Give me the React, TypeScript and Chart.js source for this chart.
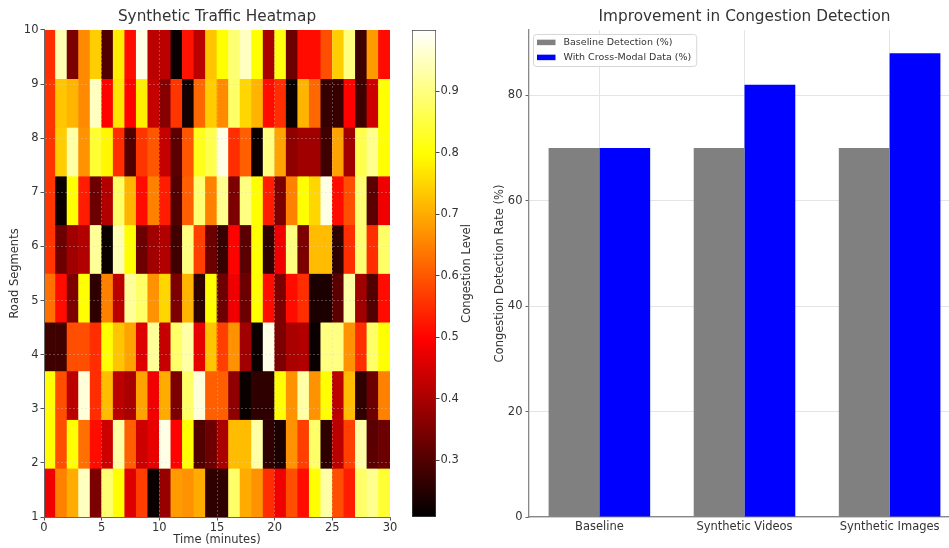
import React, { useEffect, useRef } from 'react';
import { Chart, registerables } from 'chart.js';

Chart.register(...registerables);

// ---------------- data ----------------
// Heatmap: rows listed from the top band (road segment ~10) down to the bottom band (~1),
// 30 one-minute columns per row.
const congestionRows: number[][] = [
  [0.55, 0.94, 0.35, 0.66, 0.74, 0.30, 0.78, 0.51, 0.98, 0.42, 0.42, 0.22, 0.52, 0.42, 0.73, 0.80, 0.89, 0.95, 0.80, 0.40, 0.81, 0.33, 0.51, 0.51, 0.59, 0.74, 0.90, 0.28, 0.68, 0.51],
  [0.56, 0.73, 0.71, 0.66, 0.95, 0.50, 0.77, 0.50, 0.78, 0.43, 0.36, 0.56, 0.23, 0.62, 0.74, 0.66, 0.88, 0.75, 0.71, 0.51, 0.55, 0.22, 0.71, 0.62, 0.27, 0.27, 0.50, 0.28, 0.44, 0.80],
  [0.56, 0.74, 0.93, 0.67, 0.84, 0.79, 0.55, 0.30, 0.56, 0.60, 0.43, 0.31, 0.60, 0.82, 0.86, 0.98, 0.55, 0.61, 0.22, 0.90, 0.69, 0.37, 0.39, 0.39, 0.28, 0.69, 0.39, 0.86, 0.91, 0.80],
  [0.56, 0.22, 0.80, 0.53, 0.33, 0.41, 0.88, 0.71, 0.51, 0.65, 0.53, 0.30, 0.61, 0.89, 0.65, 0.91, 0.35, 0.90, 0.80, 0.53, 0.35, 0.65, 0.80, 0.75, 0.98, 0.51, 0.59, 0.89, 0.31, 0.48],
  [0.56, 0.33, 0.39, 0.41, 0.92, 0.22, 0.94, 0.80, 0.33, 0.39, 0.41, 0.28, 0.90, 0.57, 0.33, 0.27, 0.50, 0.31, 0.80, 0.26, 0.48, 0.90, 0.35, 0.72, 0.72, 0.26, 0.55, 0.89, 0.55, 0.88],
  [0.63, 0.51, 0.35, 0.80, 0.26, 0.65, 0.42, 0.92, 0.88, 0.67, 0.75, 0.35, 0.71, 0.26, 0.80, 0.33, 0.48, 0.33, 0.80, 0.51, 0.35, 0.51, 0.55, 0.24, 0.24, 0.31, 0.93, 0.39, 0.30, 0.51],
  [0.28, 0.28, 0.59, 0.59, 0.55, 0.80, 0.73, 0.69, 0.46, 0.92, 0.43, 0.88, 0.93, 0.47, 0.73, 0.57, 0.67, 0.39, 0.22, 0.98, 0.35, 0.40, 0.41, 0.22, 0.90, 0.90, 0.67, 0.55, 0.88, 0.80],
  [0.80, 0.59, 0.42, 0.97, 0.55, 0.72, 0.42, 0.40, 0.69, 0.48, 0.70, 0.35, 0.88, 0.97, 0.61, 0.61, 0.37, 0.22, 0.26, 0.26, 0.80, 0.67, 0.93, 0.67, 0.80, 0.42, 0.72, 0.26, 0.33, 0.65],
  [0.80, 0.59, 0.80, 0.63, 0.51, 0.44, 0.93, 0.61, 0.44, 0.47, 0.98, 0.50, 0.80, 0.30, 0.33, 0.40, 0.72, 0.72, 0.93, 0.26, 0.24, 0.67, 0.57, 0.88, 0.26, 0.42, 0.57, 0.93, 0.31, 0.33],
  [0.48, 0.65, 0.70, 0.95, 0.35, 0.89, 0.80, 0.46, 0.57, 0.22, 0.38, 0.68, 0.67, 0.70, 0.26, 0.26, 0.88, 0.70, 0.67, 0.55, 0.48, 0.59, 0.51, 0.80, 0.93, 0.59, 0.53, 0.88, 0.91, 0.84],
];
const timeTicks = [0, 5, 10, 15, 20, 25, 30];
const segmentTicks = [1, 2, 3, 4, 5, 6, 7, 8, 9, 10];
const colorRange = [0.208, 1.0];
const colorbarTicks = [0.3, 0.4, 0.5, 0.6, 0.7, 0.8, 0.9];

const categories = ['Baseline', 'Synthetic Videos', 'Synthetic Images'];
const baselineRates = [70, 70, 70];
const crossModalRates = [70, 82, 88];
const rateTicks = [0, 20, 40, 60, 80];

// ---------------- styling helpers ----------------
const FONT = '"DejaVu Sans", "Liberation Sans", sans-serif';
const TEXT = '#333333';
const TICK_SIZE = 11.5;
const LABEL_SIZE = 11.5;
const TITLE_SIZE = 15.3;
Chart.defaults.font.family = FONT;
Chart.defaults.color = TEXT;

// matplotlib "hot" colormap (piecewise linear)
const HOT_STOPS: [number, number, number, number][] = [
  [0, 0, 0, 0],
  [0.365079, 255, 0, 0],
  [0.746032, 255, 255, 0],
  [1, 255, 255, 255],
];
function hotColor(v: number): string {
  const t = Math.min(1, Math.max(0, (v - colorRange[0]) / (colorRange[1] - colorRange[0])));
  for (let i = 1; i < HOT_STOPS.length; i++) {
    const a = HOT_STOPS[i - 1];
    const b = HOT_STOPS[i];
    if (t <= b[0]) {
      const f = (t - a[0]) / (b[0] - a[0]);
      const r = Math.round(a[1] + (b[1] - a[1]) * f);
      const g = Math.round(a[2] + (b[2] - a[2]) * f);
      const bl = Math.round(a[3] + (b[3] - a[3]) * f);
      return `rgb(${r},${g},${bl})`;
    }
  }
  return 'rgb(255,255,255)';
}

const setTicks = (values: number[]) => (axis: any) => {
  axis.ticks = values.map((value) => ({ value }));
};

const titlePadding = { top: 8.3, bottom: 3.3 };

// ---------------- heatmap ----------------
function HeatmapChart() {
  const ref = useRef<HTMLCanvasElement>(null);
  useEffect(() => {
    const yTop = segmentTicks[segmentTicks.length - 1];
    const yBottom = segmentTicks[0];
    const rowH = (yTop - yBottom) / congestionRows.length;
    const datasets = congestionRows.map((row, r) => ({
      label: `band ${r}`,
      data: row.map((_v, c) => ({ x: c + 0.5, y: [yTop - (r + 1) * rowH, yTop - r * rowH] })),
      backgroundColor: row.map(hotColor),
      borderWidth: 0,
      grouped: false,
      barPercentage: 1,
      categoryPercentage: 1,
    }));
    const gridColor = (edges: number[]) => (ctx: any) =>
      ctx.tick && edges.includes(ctx.tick.value) ? 'rgba(0,0,0,0)' : 'rgba(215,215,215,0.42)';
    const chart = new Chart(ref.current!, {
      type: 'bar',
      data: { datasets: datasets as any },
      options: {
        animation: false,
        responsive: false,
        layout: { padding: { right: 10 } },
        plugins: {
          legend: { display: false },
          tooltip: { enabled: false },
          title: {
            display: true,
            text: 'Synthetic Traffic Heatmap',
            fullSize: false,
            color: TEXT,
            font: { size: TITLE_SIZE, weight: 'normal' },
            padding: titlePadding,
          },
        },
        scales: {
          x: {
            type: 'linear',
            min: timeTicks[0],
            max: timeTicks[timeTicks.length - 1],
            offset: false,
            afterBuildTicks: setTicks(timeTicks),
            afterFit: (s: any) => {
              s.height = 31;
              s.paddingLeft = 0;
              s.paddingRight = 0;
            },
            ticks: { color: TEXT, font: { size: TICK_SIZE }, padding: 1, maxRotation: 0, autoSkip: false },
            grid: {
              z: 1,
              offset: false,
              color: gridColor([0, 30]),
              lineWidth: 0.8,
              drawTicks: true,
              tickLength: 3.5,
              tickColor: '#555',
              tickWidth: 1,
            },
            border: { z: 1, display: true, color: '#666', width: 1, dash: [2, 2] },
            title: { display: true, text: 'Time (minutes)', color: TEXT, font: { size: LABEL_SIZE }, padding: { top: 0, bottom: 0.6 } },
          },
          y: {
            type: 'linear',
            min: yBottom,
            max: yTop,
            afterBuildTicks: setTicks(segmentTicks),
            afterFit: (s: any) => {
              s.width = 44;
            },
            ticks: { color: TEXT, font: { size: TICK_SIZE }, padding: 2, autoSkip: false },
            grid: {
              z: 1,
              color: gridColor([1, 10]),
              lineWidth: 0.8,
              drawTicks: true,
              tickLength: 3.5,
              tickColor: '#555',
              tickWidth: 1,
            },
            border: { z: 1, display: true, color: '#666', width: 1, dash: [2, 2] },
            title: { display: true, text: 'Road Segments', color: TEXT, font: { size: LABEL_SIZE }, padding: { top: 8.1, bottom: 0 } },
          },
        },
      } as any,
    });
    return () => chart.destroy();
  }, []);
  return <canvas ref={ref} width={400} height={548} />;
}

// ---------------- colorbar ----------------
const colorbarTitle = 'Congestion Level';
const colorbarLabelPlugin = {
  id: 'colorbarLabel',
  afterDraw(chart: any) {
    const { ctx, chartArea } = chart;
    ctx.save();
    ctx.translate(chartArea.right + 31, (chartArea.top + chartArea.bottom) / 2);
    ctx.rotate(-Math.PI / 2);
    ctx.textAlign = 'center';
    ctx.textBaseline = 'middle';
    ctx.font = `${LABEL_SIZE}px ${FONT}`;
    ctx.fillStyle = TEXT;
    ctx.fillText(colorbarTitle, 0, 0);
    ctx.restore();
  },
};

function ColorbarChart() {
  const ref = useRef<HTMLCanvasElement>(null);
  useEffect(() => {
    const chart = new Chart(ref.current!, {
      type: 'bar',
      data: {
        labels: ['level'],
        datasets: [
          {
            data: [[colorRange[0], colorRange[1]]] as any,
            backgroundColor: (ctx: any) => {
              const area = ctx.chart.chartArea;
              if (!area) return '#000';
              const g = ctx.chart.ctx.createLinearGradient(0, area.bottom, 0, area.top);
              HOT_STOPS.forEach((s) => g.addColorStop(s[0], `rgb(${s[1]},${s[2]},${s[3]})`));
              return g;
            },
            borderColor: '#444',
            borderWidth: 1,
            borderSkipped: false,
            barPercentage: 1,
            categoryPercentage: 1,
          },
        ],
      },
      options: {
        animation: false,
        responsive: false,
        layout: { padding: { top: 30, bottom: 31, left: 0, right: 0 } },
        plugins: { legend: { display: false }, tooltip: { enabled: false } },
        scales: {
          x: { display: false },
          y: {
            position: 'right',
            min: colorRange[0],
            max: colorRange[1],
            afterBuildTicks: setTicks(colorbarTicks),
            afterFit: (s: any) => {
              s.width = 44;
              s.paddingTop = 0;
              s.paddingBottom = 0;
            },
            ticks: { color: TEXT, font: { size: TICK_SIZE }, padding: 1, callback: (v: any) => Number(v).toFixed(1) },
            grid: { drawOnChartArea: false, drawTicks: true, tickLength: 3.5, tickColor: '#444', color: '#444' },
            border: { display: false },
          },
        },
      } as any,
      plugins: [colorbarLabelPlugin],
    });
    return () => chart.destroy();
  }, []);
  return <canvas ref={ref} width={68} height={548} />;
}

// ---------------- bar chart ----------------
const insideLegendPlugin = {
  id: 'insideLegend',
  afterDatasetsDraw(chart: any) {
    const { ctx, chartArea } = chart;
    const items = chart.data.datasets.map((d: any) => ({ label: d.label, color: d.backgroundColor }));
    ctx.save();
    ctx.font = `9.5px ${FONT}`;
    const textW = Math.max(...items.map((i: any) => ctx.measureText(i.label).width));
    const x = chartArea.left + 4;
    const y = chartArea.top + 4;
    const swW = 18.5;
    const swH = 5.5;
    const rowH = 15;
    const w = 4 + swW + 8 + textW + 5;
    const h = 32;
    ctx.beginPath();
    (ctx as any).roundRect(x + 0.5, y + 0.5, w, h, 3);
    ctx.fillStyle = 'rgba(255,255,255,0.8)';
    ctx.fill();
    ctx.strokeStyle = '#d6d6d6';
    ctx.lineWidth = 1;
    ctx.stroke();
    items.forEach((it: any, i: number) => {
      ctx.fillStyle = it.color;
      ctx.fillRect(x + 4, y + 5.7 + i * rowH, swW, swH);
      ctx.fillStyle = TEXT;
      ctx.textAlign = 'left';
      ctx.textBaseline = 'middle';
      ctx.fillText(it.label, x + 4 + swW + 8, y + 8.7 + i * rowH);
    });
    ctx.restore();
  },
};

function BarChart() {
  const ref = useRef<HTMLCanvasElement>(null);
  useEffect(() => {
    const chart = new Chart(ref.current!, {
      type: 'bar',
      data: {
        datasets: [
          {
            label: 'Baseline Detection (%)',
            data: baselineRates.map((v, i) => ({ x: i, y: v })),
            backgroundColor: '#808080',
            borderWidth: 0,
            barPercentage: 1,
            categoryPercentage: 0.7,
          },
          {
            label: 'With Cross-Modal Data (%)',
            data: crossModalRates.map((v, i) => ({ x: i, y: v })),
            backgroundColor: '#0000ff',
            borderWidth: 0,
            barPercentage: 1,
            categoryPercentage: 0.7,
          },
        ],
      },
      options: {
        animation: false,
        responsive: false,
        layout: { padding: { right: 20 } },
        plugins: {
          legend: { display: false },
          tooltip: { enabled: false },
          title: {
            display: true,
            text: 'Improvement in Congestion Detection',
            fullSize: false,
            color: TEXT,
            font: { size: TITLE_SIZE, weight: 'normal' },
            padding: titlePadding,
          },
        },
        scales: {
          x: {
            type: 'linear',
            min: -0.485,
            max: categories.length - 1 + 0.485,
            offset: false,
            afterBuildTicks: setTicks(categories.map((_c, i) => i)),
            afterFit: (s: any) => {
              s.height = 31;
              s.paddingLeft = 0;
              s.paddingRight = 0;
            },
            ticks: {
              color: TEXT,
              font: { size: TICK_SIZE },
              padding: 3,
              maxRotation: 0,
              autoSkip: false,
              callback: (v: any) => categories[Math.round(Number(v))] ?? '',
            },
            grid: { offset: false, color: '#e4e4e4', lineWidth: 1, drawTicks: false },
            border: { display: true, color: '#888', width: 1.3 },
          },
          y: {
            type: 'linear',
            min: 0,
            max: 92.4,
            afterBuildTicks: setTicks(rateTicks),
            afterFit: (s: any) => {
              s.width = 49;
            },
            ticks: { color: TEXT, font: { size: TICK_SIZE }, padding: 3 },
            grid: { color: '#e4e4e4', lineWidth: 1, drawTicks: true, tickLength: 3.5, tickColor: '#666' },
            border: { display: true, color: '#888', width: 1.3 },
            title: {
              display: true,
              text: 'Congestion Detection Rate (%)',
              color: TEXT,
              font: { size: LABEL_SIZE },
              padding: { top: 13.1, bottom: 0 },
            },
          },
        },
      } as any,
      plugins: [insideLegendPlugin],
    });
    return () => chart.destroy();
  }, []);
  return <canvas ref={ref} width={500} height={548} />;
}

export default function App() {
  return (
    <div
      style={{
        position: 'fixed',
        left: 0,
        top: 0,
        width: 949,
        height: 548,
        overflow: 'hidden',
        background: '#ffffff',
      }}
    >
      <div style={{ position: 'absolute', left: 0, top: 0, width: 400, height: 548 }}>
        <HeatmapChart />
      </div>
      <div style={{ position: 'absolute', left: 412, top: 0, width: 68, height: 548 }}>
        <ColorbarChart />
      </div>
      <div style={{ position: 'absolute', left: 480, top: 0, width: 500, height: 548 }}>
        <BarChart />
      </div>
    </div>
  );
}
